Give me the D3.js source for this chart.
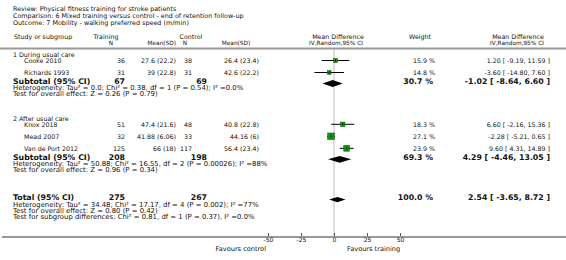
<!DOCTYPE html>
<html>
<head>
<meta charset="utf-8">
<script src="https://cdn.jsdelivr.net/npm/d3@7"></script>
<style>
body { margin: 0; background: #fff; }
svg text { font-family: "DejaVu Sans", Verdana, sans-serif; fill: #111; }
</style>
</head>
<body>
<script>
const WIDTH = 566;
const HEIGHT = 260;

var titleLines = [
    'Review:  Physical fitness training for stroke patients',
    'Comparison:  6 Mixed training versus control - end of retention follow-up',
    'Outcome:  7 Mobility - walking preferred speed (m/min)'
];

// studies
var studyGroup = [0, 0, 1, 1, 1];
var studyNames = ['Cooke 2010', 'Richards 1993', 'Knox 2018', 'Mead 2007', 'Van de Port 2012'];
var trainN = [36, 31, 51, 32, 125];
var trainMeanSD = ['27.6 (22.2)', '39 (22.8)', '47.4 (21.6)', '41.88 (6.06)', '66 (18)'];
var controlN = [38, 31, 48, 33, 117];
var controlMeanSD = ['26.4 (23.4)', '42.6 (22.2)', '40.8 (22.8)', '44.16 (6)', '56.4 (23.4)'];
var weights = [15.9, 14.8, 18.3, 27.1, 23.9];
var meanDiff = [1.20, -3.60, 6.60, -2.28, 9.60];
var ciLow = [-9.19, -14.80, -2.16, -5.21, 4.31];
var ciHigh = [11.59, 7.60, 15.36, 0.65, 14.89];

// subgroups
var groupNames = ['1 During usual care', '2 After usual care'];
var groupTrainN = [67, 208];
var groupControlN = [69, 198];
var groupWeight = [30.7, 69.3];
var groupMD = [-1.02, 4.29];
var groupLow = [-8.64, -4.46];
var groupHigh = [6.60, 13.05];
var groupHet = [
    'Heterogeneity: Tau\u00b2 = 0.0; Chi\u00b2 = 0.38, df = 1 (P = 0.54); I\u00b2 =0.0%',
    'Heterogeneity: Tau\u00b2 = 50.88; Chi\u00b2 = 16.55, df = 2 (P = 0.00026); I\u00b2 =88%'
];
var groupTest = ['Test for overall effect: Z = 0.26 (P = 0.79)', 'Test for overall effect: Z = 0.96 (P = 0.34)'];

// total
var totalN = [275, 267];
var totalWeight = 100.0;
var totalMD = [2.54, -3.65, 8.72];
var totalNotes = [
    'Heterogeneity: Tau\u00b2 = 34.48; Chi\u00b2 = 17.17, df = 4 (P = 0.002); I\u00b2 =77%',
    'Test for overall effect: Z = 0.80 (P = 0.42)',
    'Test for subgroup differences: Chi\u00b2 = 0.81, df = 1 (P = 0.37), I\u00b2 =0.0%'
];

var axisTicks = [-50, -25, 0, 25, 50];

d3.formatDefaultLocale({decimal: '.', thousands: ',', grouping: [3], currency: ['', ''], minus: '-'});
var fmt = d3.format('.2f');
var ciText = function (m, l, h) { return fmt(m) + ' [ ' + fmt(l) + ', ' + fmt(h) + ' ]'; };

var svg = d3.select('body').append('svg')
    .attr('width', WIDTH)
    .attr('height', HEIGHT);

var x = d3.scaleLinear().domain([-50, 50]).range([268, 400]);
var boxSize = d3.scaleLinear().domain([0, 27.1]).range([0, 6.6]);

var SMALL = 6.3, BIG = 7.8, NOTE = 6.9, HEAD = 5.8;
var addText = function (tx, ty, s, anchor, size, bold) {
    size = size || SMALL;
    return svg.append('text')
        .attr('x', tx)
        .attr('y', ty + size * 0.36)
        .attr('text-anchor', anchor || 'start')
        .attr('font-size', size)
        .attr('font-weight', bold ? 'bold' : null)
        .text(s);
};

// title block
titleLines.forEach(function (t, i) { addText(13, 8.5 + i * 7, t, 'start', 6.4); });

// headers
addText(14, 36.5, 'Study or subgroup');
addText(106, 36.5, 'Training', 'middle');
addText(191, 36.5, 'Control', 'middle');
addText(338, 36.5, 'Mean Difference', 'middle');
addText(420, 36.5, 'Weight', 'middle');
addText(518, 36.5, 'Mean Difference', 'middle');
addText(113, 43, 'N', 'end', HEAD);
addText(176, 43, 'Mean(SD)', 'end', HEAD);
addText(187, 43, 'N', 'end', HEAD);
addText(236, 43, 'Mean(SD)', 'middle', HEAD);
addText(336, 43, 'IV,Random,95% CI', 'middle', HEAD);
addText(517, 43, 'IV,Random,95% CI', 'middle', HEAD);

svg.append('line')
    .attr('x1', 0).attr('x2', WIDTH)
    .attr('y1', 48.5).attr('y2', 48.5)
    .attr('stroke', '#999').attr('stroke-width', 2);

var axisY = 237;

// zero line
svg.append('line')
    .attr('x1', x(0)).attr('x2', x(0))
    .attr('y1', 49).attr('y2', axisY)
    .attr('stroke', '#bbb').attr('stroke-width', 1);

var diamond = function (cy, m, l, h, half) {
    svg.append('path')
        .attr('d', 'M' + x(l) + ',' + cy + 'L' + x(m) + ',' + (cy - half) +
            'L' + x(h) + ',' + cy + 'L' + x(m) + ',' + (cy + half) + 'Z')
        .attr('fill', '#000');
};

var y = 54.5;
groupNames.forEach(function (g, gi) {
    addText(13, y, g);
    var idx = d3.range(studyNames.length).filter(function (i) { return studyGroup[i] === gi; });
    var sy = y + 6;
    idx.forEach(function (i, k) {
        var ry = sy + 12 * k;
        addText(24, ry, studyNames[i]);
        addText(125, ry, trainN[i], 'end');
        addText(176, ry, trainMeanSD[i], 'end');
        addText(192, ry, controlN[i], 'end');
        addText(259, ry, controlMeanSD[i], 'end');
        addText(435, ry, weights[i].toFixed(1) + ' %', 'end');
        addText(550, ry, ciText(meanDiff[i], ciLow[i], ciHigh[i]), 'end');
        svg.append('line')
            .attr('x1', x(ciLow[i])).attr('x2', x(ciHigh[i]))
            .attr('y1', ry).attr('y2', ry)
            .attr('stroke', '#000').attr('stroke-width', 1);
        var s = boxSize(weights[i]);
        svg.append('rect')
            .attr('x', x(meanDiff[i]) - s / 2).attr('y', ry - s / 2)
            .attr('width', s).attr('height', s)
            .attr('fill', '#0a9a0a').attr('stroke', '#064f06').attr('stroke-width', 0.5);
        svg.append('line')
            .attr('x1', x(meanDiff[i])).attr('x2', x(meanDiff[i]))
            .attr('y1', ry - 1).attr('y2', ry + 1)
            .attr('stroke', '#000');
    });
    var ty = sy + 12 * (idx.length - 1) + 11;
    var tt = ty - 2;
    addText(13, tt, 'Subtotal (95% CI)', 'start', BIG, true);
    addText(125, tt, groupTrainN[gi], 'end', BIG, true);
    addText(207, tt, groupControlN[gi], 'end', BIG, true);
    addText(433, tt, groupWeight[gi].toFixed(1) + ' %', 'end', BIG, true);
    addText(550, tt, ciText(groupMD[gi], groupLow[gi], groupHigh[gi]), 'end', BIG, true);
    diamond(ty, groupMD[gi], groupLow[gi], groupHigh[gi], 3.4);
    addText(13, ty + 4.3, groupHet[gi], 'start', NOTE);
    addText(13, ty + 10.3, groupTest[gi], 'start', NOTE);
    y = ty + 10.3 + 24.5;
});

var totY = y - 24.5 + 30;
var totT = totY - 2;
addText(13, totT, 'Total (95% CI)', 'start', BIG, true);
addText(125, totT, totalN[0], 'end', BIG, true);
addText(207, totT, totalN[1], 'end', BIG, true);
addText(433, totT, totalWeight.toFixed(1) + ' %', 'end', BIG, true);
addText(550, totT, ciText(totalMD[0], totalMD[1], totalMD[2]), 'end', BIG, true);
diamond(totY, totalMD[0], totalMD[1], totalMD[2], 2.6);
totalNotes.forEach(function (t, i) { addText(13, totY + 4.5 + i * 6, t, 'start', NOTE); });

// axis
svg.append('line')
    .attr('x1', 2).attr('x2', WIDTH)
    .attr('y1', axisY).attr('y2', axisY)
    .attr('stroke', '#999').attr('stroke-width', 2);

var xAxis = d3.axisBottom(x).tickValues(axisTicks).tickSize(-3).tickPadding(2).tickFormat(d3.format('d'));
var ax = svg.append('g')
    .attr('transform', 'translate(0,' + (axisY - 1) + ')')
    .call(xAxis);
ax.select('.domain').remove();
ax.selectAll('.tick line').attr('stroke', '#555');
ax.selectAll('.tick text').attr('font-size', 6).attr('font-family', '"DejaVu Sans", Verdana, sans-serif').attr('fill', '#111');

addText(266, 249, 'Favours control', 'end', 6.6);
addText(347, 249, 'Favours training', 'start', 6.6);
</script>
</body>
</html>
